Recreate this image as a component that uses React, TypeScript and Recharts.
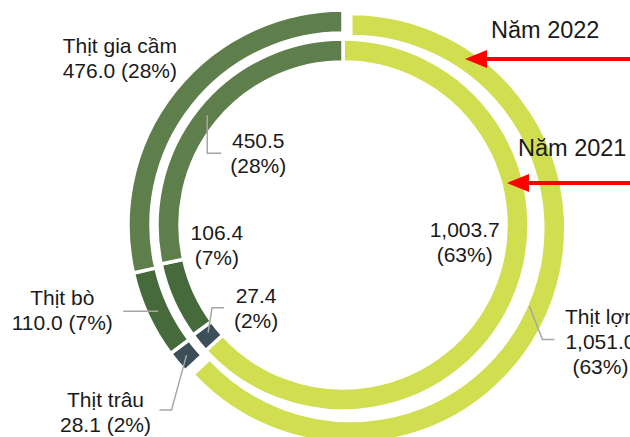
import React from "react";
import { PieChart, Pie, Cell } from "recharts";

const categories = ["Thịt lợn", "Thịt trâu", "Thịt bò", "Thịt gia cầm"];
const values2022 = [1051.0, 28.1, 110.0, 476.0];
const values2021 = [1003.7, 27.4, 106.4, 450.5];
const pct2022 = ["63%", "2%", "7%", "28%"];
const pct2021 = ["63%", "2%", "7%", "28%"];
const yearLabels = ["Năm 2022", "Năm 2021"];

const COLORS = ["#D1DE50", "#3C4E57", "#476A3D", "#5E7E4B"];
const FONT = "'Liberation Sans', Arial, sans-serif";
const LEADER = "#A6A6A6";
const RAD = Math.PI / 180;

const fmt = (v: number) =>
  v.toLocaleString("en-US", { minimumFractionDigits: 1, maximumFractionDigits: 1 });

const outerData = categories.map((name, i) => ({ name, value: values2022[i], pct: pct2022[i] }));
const innerData = categories.map((name, i) => ({ name, value: values2021[i], pct: pct2021[i] }));

// the pork slice of the outer ring is pulled out a little
const EXPLODE = 8.5;
const total2022 = values2022.reduce((a, b) => a + b, 0);
const porkBearing = ((values2022[0] / 2) / total2022) * 360 * RAD;
const explodeTf = `translate(${EXPLODE * Math.sin(porkBearing)},${-EXPLODE * Math.cos(porkBearing)})`;

// label placement relative to slice centre: text centre dx, first baseline dy, leader points
const outerLayout = [
  { dx: 71, dy: 17, leader: [[0, 0], [13, 33], [25, 33]] },
  { dx: -81, dy: 52, leader: [[0, 0], [-15, 55], [-27, 55]] },
  { dx: -96, dy: -5, leader: [[0, 1], [-35, 1]] },
  { dx: -64, dy: -45, leader: [] },
];
const innerLayout = [
  { dx: -38, dy: -58, leader: [] },
  { dx: 48, dy: -33, leader: [[0, -3], [4, -28], [16, -28]] },
  { dx: 33, dy: -57, leader: [] },
  { dx: 51, dy: 33, leader: [[0, 0], [0, 38], [14, 38]] },
];

const center = (p: any) => {
  const r = (p.innerRadius + p.outerRadius) / 2;
  return {
    x: p.cx + r * Math.cos(-p.midAngle * RAD),
    y: p.cy + r * Math.sin(-p.midAngle * RAD),
  };
};

const renderLabel = (layout: any[], outer: boolean) => (p: any) => {
  const { x, y } = center(p);
  const l = layout[p.index];
  const d = p.payload?.payload ?? p.payload ?? {};
  const name = d.name ?? p.name;
  const pct = d.pct;
  const val = fmt(p.value);
  let lines: string[];
  if (outer) {
    lines = p.index === 0 ? [name, val, `(${pct})`] : [name, `${val} (${pct})`];
  } else {
    lines = [val, `(${pct})`];
  }
  const pts = l.leader.map((q: number[]) => `${x + q[0]},${y + q[1]}`).join(" ");
  return (
    <g key={`lbl-${outer ? "o" : "i"}-${p.index}`}>
      {l.leader.length > 0 && (
        <polyline points={pts} fill="none" stroke={LEADER} strokeWidth={1.5} />
      )}
      <text
        x={x + l.dx}
        y={y + l.dy}
        textAnchor="middle"
        fontFamily={FONT}
        fontSize={21}
        fill="#1A1A1A"
      >
        {lines.map((t, i) => (
          <tspan key={i} x={x + l.dx} dy={i === 0 ? 0 : 25}>
            {t}
          </tspan>
        ))}
      </text>
    </g>
  );
};

const Arrow = ({ tipX, y }: { tipX: number; y: number }) => (
  <g>
    <line x1={tipX + 18} y1={y} x2={640} y2={y} stroke="#FF0000" strokeWidth={4} />
    <polygon points={`${tipX},${y} ${tipX + 22},${y - 9} ${tipX + 22},${y + 9}`} fill="#FF0000" />
  </g>
);

export default function App() {
  return (
    <div style={{ position: "absolute", left: 0, top: 0, width: 630, height: 437, overflow: "hidden", background: "#fff" }}>
      <PieChart width={630} height={437} margin={{ top: 0, right: 0, bottom: 0, left: 0 }}>
        <Pie
          data={outerData}
          dataKey="value"
          nameKey="name"
          cx={343}
          cy={225}
          innerRadius={192}
          outerRadius={215}
          startAngle={90}
          endAngle={-270}
          stroke="#fff"
          strokeWidth={3.5}
          labelLine={false}
          label={renderLabel(outerLayout, true)}
          isAnimationActive={false}
        >
          {outerData.map((e, i) => (
            <Cell key={`o-${i}`} fill={COLORS[i]} transform={i === 0 ? explodeTf : undefined} />
          ))}
        </Pie>
        <Pie
          data={innerData}
          dataKey="value"
          nameKey="name"
          cx={343}
          cy={225}
          innerRadius={163}
          outerRadius={186}
          startAngle={90}
          endAngle={-270}
          stroke="#fff"
          strokeWidth={3.5}
          labelLine={false}
          label={renderLabel(innerLayout, false)}
          isAnimationActive={false}
        >
          {innerData.map((e, i) => (
            <Cell key={`i-${i}`} fill={COLORS[i]} />
          ))}
        </Pie>
      </PieChart>
      <svg width={630} height={437} style={{ position: "absolute", left: 0, top: 0, pointerEvents: "none" }}>
        <text x={491} y={38} fontFamily={FONT} fontSize={23.5} fill="#1A1A1A">{yearLabels[0]}</text>
        <text x={518} y={156} fontFamily={FONT} fontSize={23.5} fill="#1A1A1A">{yearLabels[1]}</text>
        <Arrow tipX={465} y={59} />
        <Arrow tipX={507} y={183} />
      </svg>
    </div>
  );
}
